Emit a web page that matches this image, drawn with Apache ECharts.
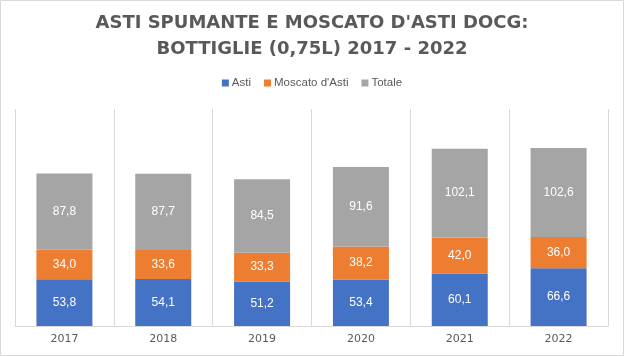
<!DOCTYPE html>
<html><head><meta charset="utf-8">
<script src="https://cdn.jsdelivr.net/npm/echarts@6/dist/echarts.min.js"></script>
<style>html,body{margin:0;padding:0;background:#fff}#c{width:624px;height:356px}</style>
</head><body><div id="c"></div>
<script>
const categories = ['2017','2018','2019','2020','2021','2022'];
const asti = [53.8, 54.1, 51.2, 53.4, 60.1, 66.6];
const moscato = [34.0, 33.6, 33.3, 38.2, 42.0, 36.0];
const totale = [87.8, 87.7, 84.5, 91.6, 102.1, 102.6];
const seriesNames = ['Asti', "Moscato d'Asti", 'Totale'];
const colors = ['#4472C4', '#ED7D31', '#A5A5A5'];

const chart = echarts.init(document.getElementById('c'), null, {renderer:'canvas'});
const fmt = p => p.value.toFixed(1).replace('.', ',');
function mk(name, data, color){
  return {
    name, type:'bar', stack:'s', data, barWidth:56,
    itemStyle:{color},
    label:{show:true, position:'inside', color:'#fff', fontFamily:'Liberation Sans', fontSize:12, formatter:fmt}
  };
}
chart.setOption({
  animation:false,
  title:{
    text:"ASTI SPUMANTE E MOSCATO D'ASTI DOCG:\nBOTTIGLIE (0,75L) 2017 - 2022",
    left:'center', top:10, padding:0,
    textStyle:{fontFamily:'DejaVu Sans', fontWeight:'bold', fontSize:18, color:'#595959', lineHeight:26}
  },
  legend:{
    top:77, left:'center', itemWidth:7, itemHeight:7, itemGap:13, icon:'rect', padding:0,
    textStyle:{fontFamily:'Liberation Sans', fontSize:11.5, color:'#595959', padding:[0,0,0,-2]},
    data:seriesNames
  },
  grid:{left:15, right:16, top:109, bottom:30},
  xAxis:{
    type:'category', data:categories,
    axisLine:{lineStyle:{color:'#d9d9d9'}},
    axisTick:{show:false},
    splitLine:{show:true, lineStyle:{color:'#d9d9d9'}},
    axisLabel:{fontFamily:'DejaVu Sans', fontSize:11, color:'#595959', margin:8}
  },
  yAxis:{type:'value', min:0, max:250, show:false, splitLine:{show:false}},
  graphic:[{type:'rect', shape:{x:0.5,y:0.5,width:623,height:355}, style:{fill:'none', stroke:'#d9d9d9', lineWidth:1}, silent:true}],
  series:[mk(seriesNames[0], asti, colors[0]), mk(seriesNames[1], moscato, colors[1]), mk(seriesNames[2], totale, colors[2])]
});
</script></body></html>
